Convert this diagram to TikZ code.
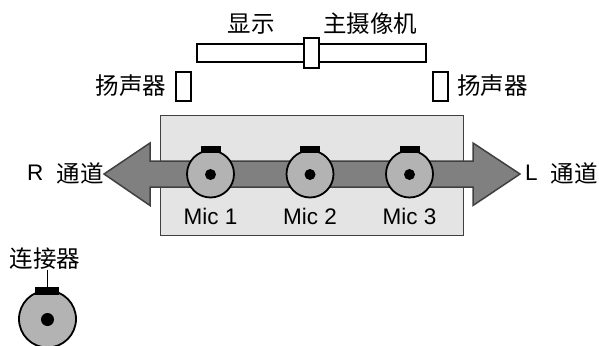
\documentclass[tikz,border=0pt]{standalone}
\usepackage{fontspec}
\setmainfont{Liberation Sans}
\newfontfamily\cjk{Noto Sans CJK SC}
\definecolor{panelgray}{HTML}{E4E4E4}
\definecolor{arrowgray}{HTML}{808080}
\definecolor{micgray}{HTML}{B3B3B3}
\definecolor{edgegray}{HTML}{404040}
\tikzset{
  x=1pt,y=-1pt,
  panel/.style={draw=edgegray,fill=panelgray,line width=1pt},
  chanarrow/.style={draw=edgegray,fill=arrowgray,line width=1.5pt,line join=miter},
  outlinebox/.style={draw=black,fill=white,line width=2pt,inner sep=0pt,minimum width=#1},
  mic/.style={circle,draw=black,fill=micgray,line width=1.8pt,inner sep=0pt,minimum size=47pt},
  bigmic/.style={circle,draw=black,fill=micgray,line width=1.8pt,inner sep=0pt,minimum size=57pt},
  hole/.style={circle,fill=black,inner sep=0pt,minimum size=#1},
  tab/.style={fill=black,inner sep=0pt,minimum width=#1},
  cntext/.style={font=\cjk\fontsize{23.5}{25}\selectfont,inner sep=0pt,text=black},
  latin/.style={font=\fontsize{22.5}{24}\selectfont,inner sep=0pt,text=black},
}
\begin{document}
\begin{tikzpicture}
\useasboundingbox (0,0) rectangle (599,345);
\clip (0,0) rectangle (599,345);
% panel
\path[panel] (160.5,115) rectangle (463.5,235.5);
% channel arrow
\path[chanarrow] (104,174) -- (150,143) -- (150,161) -- (473,161) -- (473,143) -- (520,174) -- (473,205.5) -- (473,187) -- (150,187) -- (150,205.5) -- cycle;
% mics
\foreach \n/\x in {1/210.5,2/310,3/409.5}{
  \node[mic] (m\n) at (\x,174) {};
  \node[tab=20pt,minimum height=7pt] (t\n) at (\x,149.5) {};
  \node[hole=11pt] (h\n) at (\x,174.5) {};
  \node[latin,anchor=base] (ml\n) at (\x,224) {Mic \n};
}
% slider
\node[outlinebox=229pt,minimum height=18pt] (bar) at (311.5,53) {};
\node[outlinebox=15pt,minimum height=30pt] (handle) at (311.5,53) {};
% speakers
\node[outlinebox=15pt,minimum height=29pt] (spl) at (183.5,86.5) {};
\node[outlinebox=15pt,minimum height=29pt] (spr) at (440.5,86.5) {};
% labels
\node[cntext] (disp) at (251,24) {显示};
\node[cntext] (cam) at (370,24) {主摄像机};
\node[cntext] (ltxt) at (131,85.5) {扬声器};
\node[cntext] (rtxt) at (492.5,85.5) {扬声器};
\node[latin,anchor=base west] (rlab) at (27,180.5) {R};
\node[cntext] (rcn) at (80,173.5) {通道};
\node[latin,anchor=base west] (llab) at (525,180.5) {L};
\node[cntext] (lcn) at (574,173.5) {通道};
% connector legend
\node[cntext] (conn) at (45,259) {连接器};
\node[bigmic] (legend) at (47.5,319) {};
\node[tab=24pt,minimum height=8pt] (legtab) at (47,291) {};
\node[hole=13pt] (leghole) at (47.5,319.5) {};
\draw[black,line width=1pt] (conn.south -| legtab.north) -- (legtab.north);
\end{tikzpicture}
\end{document}
